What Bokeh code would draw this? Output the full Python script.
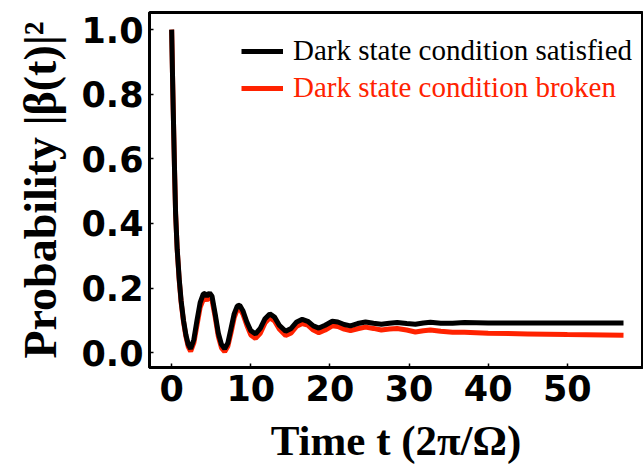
from bokeh.plotting import figure
from bokeh.models import Range1d, FixedTicker, Legend, LegendItem
from bokeh.embed import file_html
from bokeh.resources import INLINE

# Time in units of 2*pi/Omega
t_sat = [0, 0.1, 0.2, 0.35, 0.5, 0.7, 0.95, 1.2, 1.5, 1.8, 2.1, 2.4, 2.8, 3.2, 3.6, 4.0, 4.2,
         4.45, 4.8, 5.1, 5.5, 5.9, 6.3, 6.7, 7.1, 7.5, 7.9, 8.3, 8.6, 9.0, 9.5, 10.0, 10.6,
         11.2, 11.8, 12.4, 13.0, 13.6, 14.4, 15.1, 15.8, 16.5, 17.2, 17.9, 18.6, 19.4, 20.3,
         21.0, 21.8, 22.6, 23.5, 24.5, 25.5, 26.5, 27.5, 28.5, 29.7, 30.8, 31.8, 32.7, 34.0,
         35.5, 37.0, 40.0, 45.0, 50.0, 57.1]
p_sat = [1.0, 0.87, 0.75, 0.58, 0.43, 0.32, 0.23, 0.16, 0.10, 0.055, 0.025, 0.012, 0.04, 0.10,
         0.155, 0.182, 0.183, 0.175, 0.185, 0.175, 0.12, 0.06, 0.025, 0.012, 0.03, 0.075, 0.12,
         0.145, 0.147, 0.13, 0.095, 0.068, 0.058, 0.075, 0.105, 0.12, 0.11, 0.085, 0.066, 0.075,
         0.095, 0.103, 0.097, 0.083, 0.076, 0.085, 0.097, 0.095, 0.087, 0.083, 0.09, 0.095,
         0.091, 0.088, 0.091, 0.093, 0.09, 0.088, 0.092, 0.094, 0.091, 0.091, 0.093, 0.092,
         0.092, 0.092, 0.092]

t_brk = [0, 0.1, 0.2, 0.35, 0.5, 0.7, 0.95, 1.2, 1.5, 1.8, 2.1, 2.4, 2.8, 3.2, 3.6, 4.0, 4.2,
         4.45, 4.8, 5.1, 5.5, 5.9, 6.3, 6.7, 7.1, 7.5, 7.9, 8.3, 8.6, 9.0, 9.5, 10.0, 10.6,
         11.2, 11.8, 12.4, 13.0, 13.6, 14.4, 15.1, 15.8, 16.5, 17.2, 17.9, 18.6, 19.4, 20.3,
         21.0, 21.8, 22.6, 23.5, 24.5, 25.5, 26.5, 27.5, 28.5, 29.7, 30.8, 31.8, 32.7, 34.0,
         35.5, 37.0, 40.0, 45.0, 50.0, 57.1]
p_brk = [1.0, 0.87, 0.75, 0.58, 0.43, 0.32, 0.225, 0.155, 0.095, 0.05, 0.018, 0.004, 0.03,
         0.085, 0.14, 0.165, 0.168, 0.163, 0.172, 0.163, 0.11, 0.05, 0.015, 0.003, 0.02, 0.062,
         0.108, 0.135, 0.137, 0.12, 0.085, 0.055, 0.044, 0.06, 0.092, 0.108, 0.098, 0.073,
         0.053, 0.061, 0.082, 0.09, 0.085, 0.07, 0.062, 0.07, 0.083, 0.081, 0.073, 0.068,
         0.074, 0.079, 0.075, 0.07, 0.073, 0.075, 0.07, 0.064, 0.068, 0.07, 0.066, 0.063,
         0.063, 0.06, 0.058, 0.056, 0.054]

x_ticks = [0, 10, 20, 30, 40, 50]
y_ticks = [0.0, 0.2, 0.4, 0.6, 0.8, 1.0]
y_tick_labels = {0.0: "0.0", 0.2: "0.2", 0.4: "0.4", 0.6: "0.6", 0.8: "0.8", 1.0: "1.0"}
label_sat = "Dark state condition satisfied"
label_brk = "Dark state condition broken"

RED = "#ff2200"

p = figure(width=643, height=466, output_backend="svg", toolbar_location=None,
           x_range=Range1d(-2.8, 59.5), y_range=Range1d(-0.046, 1.053))
p.min_border_left = 149
p.min_border_right = 1
p.min_border_top = 12
p.min_border_bottom = 99
p.background_fill_color = "white"
p.border_fill_color = "white"
p.outline_line_color = "black"
p.outline_line_width = 3
p.xgrid.visible = False
p.ygrid.visible = False

r_brk = p.line(t_brk, p_brk, line_color=RED, line_width=5)
r_sat = p.line(t_sat, p_sat, line_color="black", line_width=5)

for ax in (p.xaxis[0], p.yaxis[0]):
    ax.axis_line_width = 3
    ax.axis_line_color = "black"
    ax.major_tick_in = 4
    ax.major_tick_out = 0
    ax.minor_tick_line_color = None
    ax.major_tick_line_width = 1.5
    ax.major_label_text_font = "DejaVu Sans"
    ax.major_label_text_font_style = "bold"
    ax.major_label_text_font_size = "35px"
    ax.major_label_text_color = "black"
    ax.axis_label_text_font = "Liberation Serif"
    ax.axis_label_text_font_style = "bold"
    ax.axis_label_text_color = "black"

p.xaxis.ticker = FixedTicker(ticks=x_ticks)
p.yaxis.ticker = FixedTicker(ticks=y_ticks)
p.yaxis.major_label_overrides = y_tick_labels
p.xaxis.major_label_standoff = 7
p.yaxis.major_label_standoff = 6

p.xaxis.axis_label = "Time t (2π/Ω)"
p.xaxis.axis_label_text_font_size = "43px"
p.xaxis.axis_label_standoff = 13
p.yaxis.axis_label = "Probability |β(t)|²"
p.yaxis.axis_label_text_font_size = "46px"
p.yaxis.axis_label_standoff = 12

common = dict(border_line_color=None, background_fill_alpha=0, padding=0, margin=0,
              glyph_width=42, glyph_height=30, label_height=30, label_standoff=10,
              label_text_font="Liberation Serif", label_text_font_size="29px")
leg1 = Legend(items=[LegendItem(label=label_sat, renderers=[r_sat])],
              location=(92, 300), label_text_color="black", **common)
leg2 = Legend(items=[LegendItem(label=label_brk, renderers=[r_brk])],
              location=(92, 263), label_text_color=RED, **common)
p.add_layout(leg1, "center")
p.add_layout(leg2, "center")

open("out.html", "w").write(file_html(p, INLINE))
